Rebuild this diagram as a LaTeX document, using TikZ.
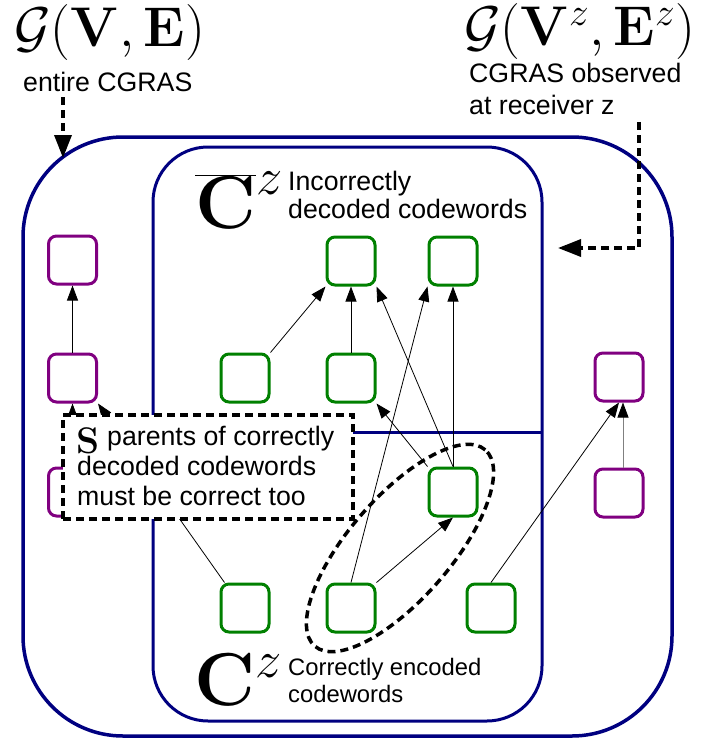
\documentclass[tikz,border=0pt]{standalone}
\usepackage{fix-cm}
\usepackage[no-math]{fontspec}
\setmainfont{Liberation Sans}
\usetikzlibrary{arrows.meta}
\definecolor{regionblue}{RGB}{0,0,128}
\definecolor{cwgreen}{RGB}{0,128,0}
\definecolor{cwpurple}{RGB}{128,0,128}
\newcommand\txtmain{\fontsize{26.7}{30}\selectfont}
\newcommand\txtsmall{\fontsize{23.8}{27}\selectfont}
\newcommand\mathhuge{\fontsize{56}{60}\selectfont}
\newcommand\mathset{\fontsize{75}{80}\selectfont}

\begin{document}
\begin{tikzpicture}[x=1pt,y=-1pt,
  region/.style={draw=regionblue,line width=3.5pt},
  cw/.style={draw=cwgreen,line width=3pt,rounded corners=8pt,minimum size=48pt,inner sep=0pt,fill=white},
  other/.style={cw,draw=cwpurple},
  dep/.style={-{Triangle[length=15pt,width=11pt,color=black]},line width=0.8pt},
  pointer/.style={line width=3.5pt,dash pattern=on 8pt off 5pt,-{Triangle[length=23pt,width=17pt]}},
  txt/.style={anchor=base west,inner sep=0pt,font=\txtmain},
  ]
\useasboundingbox (0,0) rectangle (722,741);

% regions: whole CGRAS, codewords seen at receiver z, and the split between them
\draw[region,rounded corners=100pt] (23,137) rectangle (672,736);
\draw[region,line width=3pt,rounded corners=55pt] (153,147) rectangle (542,721);
\draw[region,line width=3pt] (153,432) -- (542,432);

% codewords outside the receiver's view
\node[other] (P1) at (72.5,260) {};
\node[other] (P2) at (72.5,378) {};
\node[other] (P3) at (72.5,492) {};
\node[other] (P4) at (619,377) {};
\node[other] (P5) at (619,493) {};

% codewords at receiver z
\node[cw] (A) at (351,261) {};
\node[cw] (B) at (453,261) {};
\node[cw] (C) at (245,378) {};
\node[cw] (D) at (351,378) {};
\node[cw] (E) at (453,492) {};
\node[cw] (F) at (245,608) {};
\node[cw] (G) at (351,608) {};
\node[cw] (H) at (491,608) {};

% dependencies
\draw[dep] (P2.north) -- (P1.south);
\draw[dep] (P3.north) -- (P2.south);
\draw[dep] ([xshift=5pt]F.north west) -- (P2.south east);
\draw[dep] (C.north east) -- (A.south west);
\draw[dep] (D.north) -- (A.south);
\draw[dep] (E.north) -- (A.south east);
\draw[dep] (E.north) -- (B.south);
\draw[dep] (E.north west) -- (D.south east);
\draw[dep] (G.north) -- (B.south west);
\draw[dep] (G.north east) -- (E.south);
\draw[dep,gray] ([xshift=4pt]P5.north) -- ([xshift=4pt]P4.south);
\draw[dep] (H.north) -- (P4.south);

% the set S
\draw[line width=3.5pt,dash pattern=on 8pt off 5pt,rotate around={49:(400,548)}]
  (400,548) ellipse [x radius=130pt,y radius=51pt];

% note on S
\node[draw,fill=white,line width=3.5pt,dash pattern=on 8pt off 5pt,
  minimum width=290pt,minimum height=104pt,inner sep=0pt] (note) at (208,467) {};
\node[anchor=base west,inner sep=0pt,font=\fontsize{37}{40}\selectfont] (S) at (76,453) {$\mathbf{S}$};
\node[txt] (n1) at (107,445) {parents of correctly};
\node[txt] (n2) at (77,475) {decoded codewords};
\node[txt] (n3) at (77,505) {must be correct too};

% set labels
\node[anchor=base west,inner sep=0pt,font=\mathset] (cbar) at (195,228) {$\overline{\mathbf{C}}^z$};
\node[txt] (inc1) at (288,190) {Incorrectly};
\node[txt] (inc2) at (288,218) {decoded codewords};
\node[anchor=base west,inner sep=0pt,font=\mathset] (cz) at (194,705) {$\mathbf{C}^z$};
\node[txt,font=\txtsmall] (cor1) at (288,675) {Correctly encoded};
\node[txt,font=\txtsmall] (cor2) at (288,702) {codewords};

% graph labels and their pointers
\node[anchor=base west,inner sep=0pt,font=\mathhuge] (gall) at (14,47) {$\mathcal{G}(\mathbf{V},\mathbf{E})$};
\node[txt] (lblA) at (23,92) {entire CGRAS};
\node[anchor=base west,inner sep=0pt,font=\mathhuge] (gz) at (464,46) {$\mathcal{G}(\mathbf{V}^z,\mathbf{E}^z)$};
\node[txt] (lblB1) at (469,83) {CGRAS observed};
\node[txt] (lblB2) at (469,115) {at receiver z};

\coordinate (tipA) at (63,158);
\coordinate (startB) at (639,122);
\coordinate (bendB) at (639,248);
\coordinate (tipB) at (558,248);
\draw[pointer] (tipA |- lblA.south) ++(0,5) -- (tipA);
\draw[pointer] (startB) -- (bendB) -- (tipB);
\end{tikzpicture}
\end{document}
